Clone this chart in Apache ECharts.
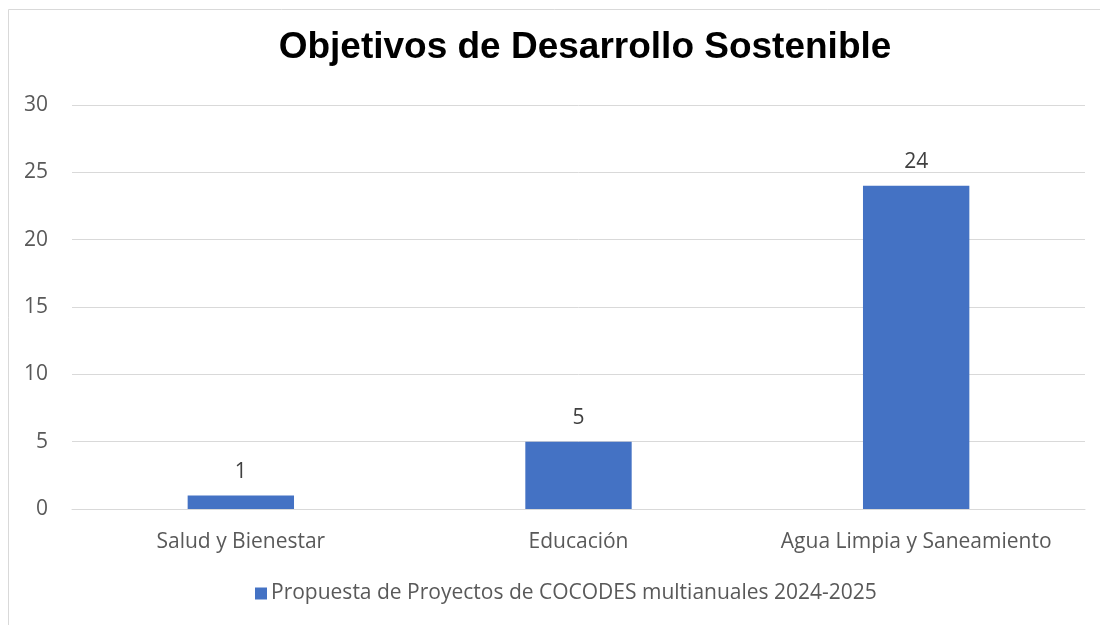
<!DOCTYPE html>
<html><head><meta charset="utf-8">
<script src="https://cdn.jsdelivr.net/npm/echarts@6/dist/echarts.min.js"></script>
<style>html,body{margin:0;padding:0;background:#fff}#c{width:1100px;height:625px}</style>
</head><body><div id="c"></div>
<script>
const categories = ['Salud y Bienestar', 'Educación', 'Agua Limpia y Saneamiento'];
const values = [1, 5, 24];
const seriesName = 'Propuesta de Proyectos de COCODES multianuales 2024-2025';
const titleText = 'Objetivos de Desarrollo Sostenible';
const font = '"Open Sans", "Noto Sans", sans-serif';

const chart = echarts.init(document.getElementById('c'), null, {renderer: 'canvas'});
chart.setOption({
  animation: false,
  backgroundColor: '#fff',
  graphic: [{
    type: 'rect', shape: {x: 8.5, y: 9.5, width: 1200, height: 700},
    style: {fill: 'none', stroke: '#d9d9d9', lineWidth: 1}, silent: true
  }],
  title: {
    text: titleText, left: 580, top: 24, textAlign: 'center',
    textStyle: {fontFamily: 'Arial, "Liberation Sans", sans-serif', fontWeight: 'bold', fontSize: 37, color: '#000'}
  },
  legend: {
    bottom: 16, left: 250, itemWidth: 12, itemHeight: 12, itemGap: 6,
    icon: 'rect',
    textStyle: {fontFamily: font, fontSize: 21, color: '#595959', padding: [0,0,0,-1]},
    data: [seriesName]
  },
  grid: {left: 72, right: 15, top: 105, bottom: 116, containLabel: false},
  xAxis: {
    type: 'category', data: categories,
    axisLine: {show: true, lineStyle: {color: '#d9d9d9'}},
    axisTick: {show: false},
    axisLabel: {interval: 0, fontFamily: font, fontSize: 21, color: '#595959', margin: 23}
  },
  yAxis: {
    type: 'value', min: 0, max: 30, interval: 5,
    axisLine: {show: false}, axisTick: {show: false},
    splitLine: {lineStyle: {color: '#d9d9d9'}},
    axisLabel: {fontFamily: font, fontSize: 21, color: '#595959', margin: 24}
  },
  series: [{
    name: seriesName, type: 'bar', data: values, barWidth: '31.5%',
    itemStyle: {color: '#4472c4'},
    label: {show: true, position: 'top', distance: 13, fontFamily: font, fontSize: 21, color: '#404040'}
  }]
});
</script></body></html>
